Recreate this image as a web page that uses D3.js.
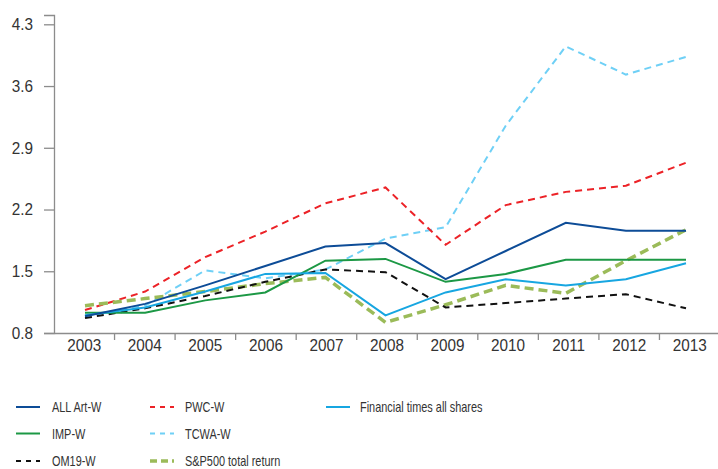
<!DOCTYPE html>
<html>
<head>
<meta charset="utf-8">
<script src="https://cdn.jsdelivr.net/npm/d3@7"></script>
<style>
  html, body { margin: 0; padding: 0; background: #fff; }
  svg { display: block; }
  .axis text, .legend text { font-family: "Liberation Sans", Arial, sans-serif; fill: #333; }
</style>
</head>
<body>
<svg id="chart" width="718" height="469"></svg>
<script>
// Index values, 2003 = 1.0
const years = ["2003","2004","2005","2006","2007","2008","2009","2010","2011","2012","2013"];
const yTicks = [0.8, 1.5, 2.2, 2.9, 3.6, 4.3];

const allArtW   = [0.99, 1.13, 1.34, 1.56, 1.78, 1.82, 1.41, 1.73, 2.05, 1.96, 1.96];
const impW      = [1.03, 1.03, 1.17, 1.26, 1.62, 1.64, 1.38, 1.47, 1.63, 1.63, 1.63];
const om19W     = [0.97, 1.08, 1.22, 1.38, 1.52, 1.49, 1.09, 1.14, 1.19, 1.24, 1.08];
const pwcW      = [1.06, 1.27, 1.66, 1.95, 2.27, 2.45, 1.80, 2.25, 2.40, 2.47, 2.73];
const tcwaW     = [0.99, 1.11, 1.51, 1.42, 1.52, 1.87, 2.00, 3.15, 4.05, 3.73, 3.93];
const sp500     = [1.11, 1.19, 1.27, 1.36, 1.43, 0.92, 1.12, 1.34, 1.25, 1.62, 1.97];
const ftAll     = [1.00, 1.09, 1.27, 1.47, 1.48, 1.00, 1.26, 1.41, 1.34, 1.41, 1.59];

const series = [
  { name: "ALL Art-W", values: allArtW, color: "#0d4c97", width: 2, dash: null, col: 0, row: 0 },
  { name: "IMP-W", values: impW, color: "#1c9845", width: 2, dash: null, col: 0, row: 1 },
  { name: "OM19-W", values: om19W, color: "#111111", width: 2, dash: "7,5", col: 0, row: 2 },
  { name: "PWC-W", values: pwcW, color: "#ec2227", width: 2, dash: "7,5", col: 1, row: 0 },
  { name: "TCWA-W", values: tcwaW, color: "#6fd0f6", width: 2, dash: "7,5", col: 1, row: 1 },
  { name: "S&P500 total return", values: sp500, color: "#9bbb59", width: 3.5, dash: "9,5", col: 1, row: 2 },
  { name: "Financial times all shares", values: ftAll, color: "#17a6e1", width: 2, dash: null, col: 2, row: 0 }
];

// Draw order: back to front
const drawOrder = ["TCWA-W", "PWC-W", "S&P500 total return", "OM19-W", "IMP-W", "Financial times all shares", "ALL Art-W"];

const svg = d3.select("#chart");
const plotLeft = 54, plotRight = 720, plotTop = 15, plotBottom = 333;
const pxPerUnit = (plotBottom - 24.3) / 3.5;

// Category bands for the axis, evenly spaced points for the series
const x = d3.scaleBand().domain(years).range([plotLeft, plotRight]).paddingInner(0).paddingOuter(0);
const xp = d3.scalePoint().domain(years).range([85, 686]);
const y = d3.scaleLinear()
  .domain([0.8, 0.8 + (plotBottom - plotTop) / pxPerUnit])
  .range([plotBottom, plotTop]);

const axisColor = "#8c8c8c";

// Horizontally condensed text, keeping the anchor point fixed
function condense(sel, sx) {
  sel.each(function () {
    const t = d3.select(this);
    const x0 = +t.attr("x") || 0;
    t.attr("x", x0 / sx).attr("transform", `scale(${sx},1)`);
  });
}

// Y axis
const yAxis = svg.append("g").attr("class", "axis")
  .attr("transform", `translate(${plotLeft},0)`)
  .call(d3.axisLeft(y).tickValues(yTicks).tickFormat(d3.format(".1f")).tickSize(10).tickPadding(11));
yAxis.selectAll("text").style("font-size", "17px").call(condense, 0.9);

// X axis: ticks sit on category boundaries, labels centred in each band
const xAxis = svg.append("g").attr("class", "axis")
  .attr("transform", `translate(0,${plotBottom})`)
  .call(d3.axisBottom(x).tickSize(0).tickPadding(6));
xAxis.selectAll("text").style("font-size", "17px").call(condense, 0.9);
xAxis.selectAll(".boundary")
  .data(years.slice(1))
  .enter().append("line")
  .attr("class", "boundary")
  .attr("x1", d => x(d)).attr("x2", d => x(d))
  .attr("y1", 0).attr("y2", 7);

svg.selectAll(".axis path, .axis line").attr("stroke", axisColor).attr("stroke-width", 1.3);

const line = d3.line()
  .x((d, i) => xp(years[i]))
  .y(d => y(d));

const byName = new Map(series.map(s => [s.name, s]));
svg.append("g").selectAll("path")
  .data(drawOrder.map(n => byName.get(n)))
  .enter().append("path")
  .attr("d", s => line(s.values))
  .attr("fill", "none")
  .attr("stroke", s => s.color)
  .attr("stroke-width", s => s.width)
  .attr("stroke-dasharray", s => s.dash)
  .attr("stroke-linejoin", "miter");

// Legend
const colX = [16, 150, 326];
const textX = [52, 185, 360];
const rowY = [407, 433.5, 461];
const legend = svg.append("g").attr("class", "legend");
const items = legend.selectAll("g").data(series).enter().append("g");
items.append("line")
  .attr("x1", s => colX[s.col]).attr("x2", s => colX[s.col] + 24)
  .attr("y1", s => rowY[s.row]).attr("y2", s => rowY[s.row])
  .attr("stroke", s => s.color)
  .attr("stroke-width", s => s.width)
  .attr("stroke-dasharray", s => s.dash ? (s.width > 3 ? "7,4" : "5,5") : null);
items.append("text")
  .attr("x", s => textX[s.col])
  .attr("y", s => rowY[s.row])
  .attr("dy", "0.36em")
  .style("font-size", "14px")
  .text(s => s.name)
  .call(condense, 0.78);
</script>
</body>
</html>
